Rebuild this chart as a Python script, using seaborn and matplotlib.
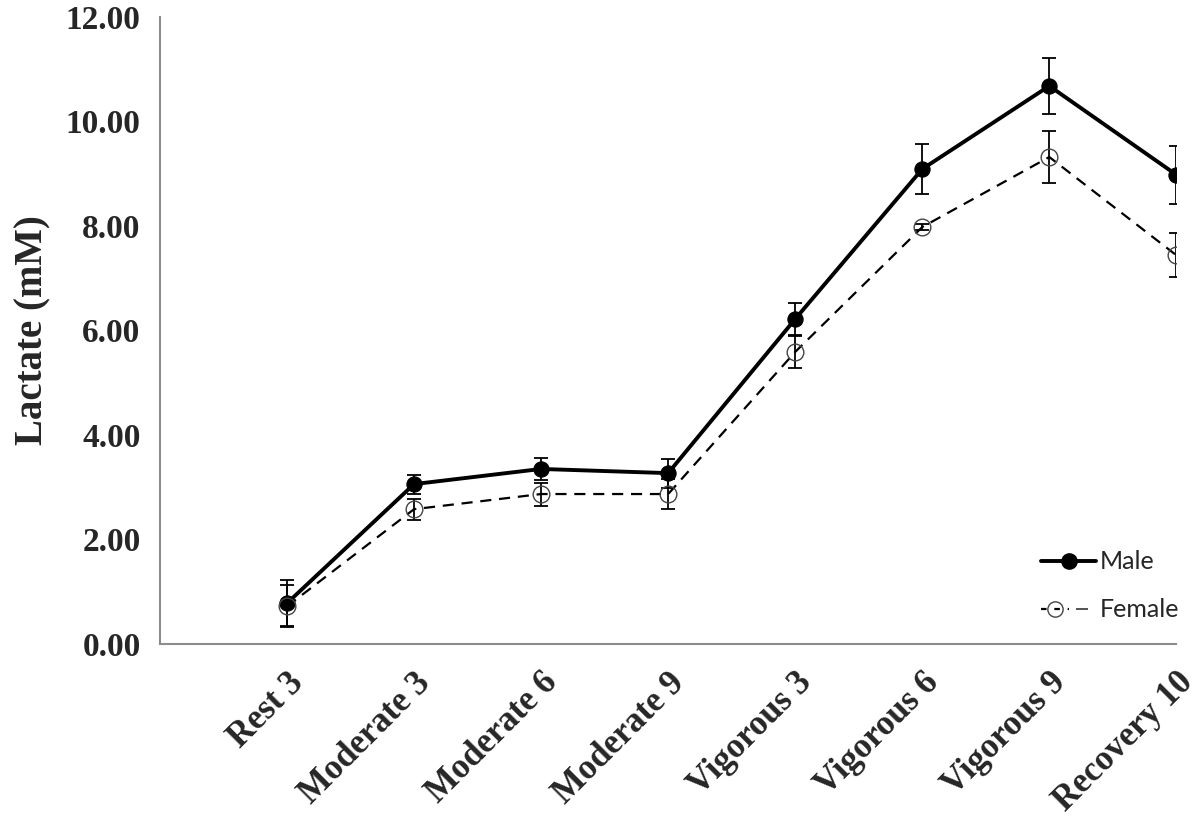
import numpy as np
import pandas as pd
import matplotlib
matplotlib.use("Agg")
import matplotlib.pyplot as plt
import seaborn as sns
from matplotlib.lines import Line2D
from matplotlib.legend_handler import HandlerTuple

sns.set_style("white")

categories = ["Rest 3", "Moderate 3", "Moderate 6", "Moderate 9",
              "Vigorous 3", "Vigorous 6", "Vigorous 9", "Recovery 10"]
male = [0.78, 3.06, 3.35, 3.27, 6.22, 9.09, 10.68, 8.98]
male_err = [0.44, 0.18, 0.21, 0.28, 0.31, 0.48, 0.54, 0.56]
female = [0.72, 2.58, 2.87, 2.87, 5.59, 7.98, 9.32, 7.44]
female_err = [0.40, 0.20, 0.22, 0.28, 0.31, 0.05, 0.50, 0.42]

idx = np.arange(len(categories))
df = pd.DataFrame({"pos": np.concatenate([idx, idx]),
                   "lactate": male + female,
                   "sex": ["Male"] * len(idx) + ["Female"] * len(idx)})

fig = plt.figure(figsize=(12, 8.33), dpi=100)
ax = fig.add_axes([0.1333, 0.2269, 0.847, 0.7527])

serif = "Liberation Serif"
grey = "#8c8c8c"

# error bars first so markers sit on top
ax.errorbar(idx, male, yerr=male_err, fmt="none", ecolor="black",
            elinewidth=1.3, capsize=5, capthick=1.3, zorder=2)
ax.errorbar(idx, female, yerr=female_err, fmt="none", ecolor="black",
            elinewidth=1.3, capsize=5, capthick=1.3, zorder=2)

sns.lineplot(data=df[df.sex == "Male"], x="pos", y="lactate", ax=ax,
             color="black", linewidth=2.8, marker="o", markersize=11,
             markeredgecolor="black", markerfacecolor="black", zorder=3)
sns.lineplot(data=df[df.sex == "Female"], x="pos", y="lactate", ax=ax,
             color="black", linewidth=1.6, linestyle=(0, (5, 3.5)),
             marker="o", markersize=12, markeredgewidth=1.0,
             markeredgecolor="#444444", markerfacecolor="none", zorder=3)

ax.set_xlim(-1, 7)
ax.set_ylim(0, 12)
ax.set_yticks(np.arange(0, 12.1, 2))
ax.set_yticklabels([f"{v:.2f}" for v in np.arange(0, 12.1, 2)],
                   fontfamily=serif, fontweight="bold", fontsize=24)
ax.set_xticks(idx)
ax.set_xticklabels(categories, rotation=45, ha="right", rotation_mode="anchor",
                   fontfamily=serif, fontweight="bold", fontsize=25)
ax.set_xlabel("")
ax.set_ylabel("Lactate (mM)", fontfamily=serif, fontweight="bold",
              fontsize=28, labelpad=10)

for side in ["top", "right"]:
    ax.spines[side].set_visible(False)
for side in ["left", "bottom"]:
    ax.spines[side].set_color(grey)
    ax.spines[side].set_linewidth(1.5)
ax.tick_params(axis="both", direction="out", length=8, width=1.5,
               color=grey, pad=6)
ax.tick_params(axis="x", pad=8)

h_male = Line2D([], [], color="black", linewidth=2.8, marker="o",
                markersize=11, markerfacecolor="black")
h_fem = Line2D([], [], color="black", linewidth=1.6, linestyle=(0, (2.5, 3.5)),
               marker="o", markersize=11, markerfacecolor="none",
               markeredgecolor="#444444")
h_bar = Line2D([], [], color="none", marker="_", markersize=9,
               markeredgecolor="#444444", markeredgewidth=1.3)
leg = ax.legend([h_male, (h_fem, h_bar)], ["Male", "Female"],
                handler_map={tuple: HandlerTuple(ndivide=None, pad=0)},
                loc="lower right", bbox_to_anchor=(1.025, 0.0),
                frameon=False, prop={"family": "Lato", "size": 18},
                handlelength=2.2, handletextpad=0.15, labelspacing=1.0)

fig.savefig("out.png", dpi=100)
